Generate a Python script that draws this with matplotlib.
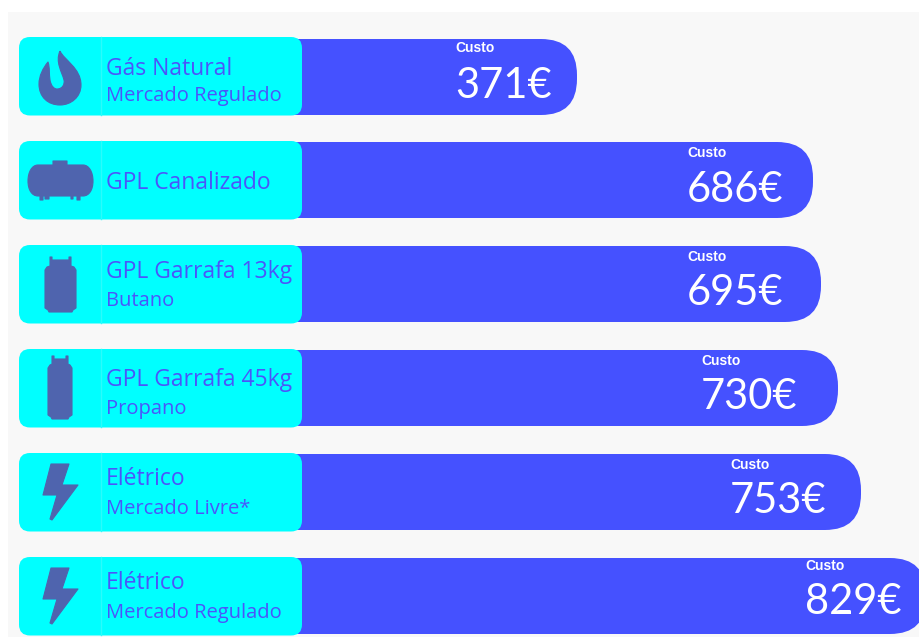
import matplotlib
matplotlib.use('Agg')
import matplotlib.pyplot as plt
from matplotlib.patches import FancyBboxPatch, PathPatch, Rectangle
from matplotlib.path import Path

# data
titles = ['Gás Natural', 'GPL Canalizado', 'GPL Garrafa 13kg', 'GPL Garrafa 45kg', 'Elétrico', 'Elétrico']
subtitles = ['Mercado Regulado', '', 'Butano', 'Propano', 'Mercado Livre*', 'Mercado Regulado']
costs = [371, 686, 695, 730, 753, 829]
bar_lengths = [277, 513, 521, 538, 561, 626]
icons = ['flame', 'tank', 'bottle13', 'bottle45', 'bolt', 'bolt']

# layout, in reference pixels
bar_tops = [39, 142, 246, 350, 454, 558]
panel_tops = [37, 141, 245, 349, 453, 557]
label_left = [455, 687, 687, 701, 730, 805]
custo_base = [52, 157, 261, 365, 469, 570]
value_base = [98, 202, 305, 409, 513, 614]
title_base = [75, 189, 278, 386, 485, 589]
sub_base = [101, 0, 306, 414, 514, 618]
BAR_H = 76
BAR_X = 300

BLUE = '#4551FF'
CYAN = '#00FFFF'
ICON = '#4F64AE'
TEXT = '#4B55FA'
FONT = 'Lato'
BODY_FONT = 'Open Sans'


def flame_path():
    verts = [(60, 51), (64, 60), (81, 68), (81, 85), (81, 97), (71, 105), (60, 105),
             (48, 105), (39, 97), (39, 84), (39, 76), (43, 68), (48, 62),
             (50, 68), (49, 74), (50, 80), (51, 86), (54, 89), (57, 89),
             (62, 89), (65, 85), (64, 80), (62, 72), (55, 62), (60, 51)]
    codes = [Path.MOVETO] + [Path.CURVE4] * 24
    return Path(verts, codes)


def tank_path():
    verts = [(38, 165), (53, 165), (53, 161), (67, 161), (67, 165), (83, 165),
             (89, 165), (93, 172), (93, 181), (93, 190), (89, 196), (83, 196),
             (80, 196), (80, 200), (77, 200), (77, 196), (73, 196), (73, 199), (71, 199), (71, 196),
             (49, 196), (49, 199), (45, 199), (45, 196), (43, 196), (43, 200), (40, 200), (40, 196),
             (38, 196), (32, 196), (28, 190), (28, 181), (28, 172), (32, 165), (38, 165)]
    codes = [Path.MOVETO] + [Path.LINETO] * 5 + [Path.CURVE4] * 6 + [Path.LINETO] * 17 + [Path.CURVE4] * 6
    return Path(verts, codes)


def bottle_path(x0, x1, cap_l, cap_r, y0, y1, body_top):
    verts = [(cap_l, y0), (cap_l + 2, y0), (cap_l + 2, y0 + 3), (cap_r - 2, y0 + 3), (cap_r - 2, y0), (cap_r, y0),
             (cap_r, body_top - 1), (x1 - 2, body_top), (x1, body_top + 3), (x1, y1 - 4), (x1 - 3, y1 - 2),
             (x1 - 4, y1), (x0 + 4, y1), (x0 + 3, y1 - 2), (x0, y1 - 4), (x0, body_top + 3),
             (x0 + 2, body_top), (cap_l, body_top - 1), (cap_l, y0)]
    codes = [Path.MOVETO] + [Path.LINETO] * 17 + [Path.CLOSEPOLY]
    return Path(verts, codes)


def bolt_path(top):
    y = top + 10
    verts = [(51, y), (69, y), (62, y + 21), (78, y + 21), (52, y + 56), (50, y + 55), (57, y + 31), (43, y + 31), (51, y)]
    codes = [Path.MOVETO] + [Path.LINETO] * 7 + [Path.CLOSEPOLY]
    return Path(verts, codes)


def icon_path(name, top):
    if name == 'flame':
        return flame_path()
    if name == 'tank':
        return tank_path()
    if name == 'bottle13':
        return bottle_path(45, 76, 50, 71, 257, 312, 267)
    if name == 'bottle45':
        return bottle_path(48, 72, 52, 68, 356, 419, 365)
    return bolt_path(top)


fig = plt.figure(figsize=(9.19, 6.37), dpi=100)
ax = fig.add_axes([0, 0, 1, 1])
ax.set_xlim(0, 919)
ax.set_ylim(637, 0)
ax.axis('off')

ax.add_patch(Rectangle((8, 12), 911, 625, facecolor='#F8F8F8', edgecolor='none', zorder=0))

for i, top in enumerate(bar_tops):
    # bar, rounded on the right and tucked under the cyan panel
    r = 36
    ax.add_patch(FancyBboxPatch((BAR_X - 40 + r, top + r), bar_lengths[i] + 40 - 2 * r, BAR_H - 2 * r,
                                boxstyle=f'round,pad={r},rounding_size={r}',
                                facecolor=BLUE, edgecolor='none', zorder=1))

    # cyan label panel
    p = 11
    ax.add_patch(FancyBboxPatch((19 + p, panel_tops[i] + p), 283 - 2 * p, 78.5 - 2 * p,
                                boxstyle=f'round,pad={p},rounding_size={p}',
                                facecolor=CYAN, edgecolor='none', zorder=2))
    ax.plot([100.5, 100.5], [panel_tops[i], panel_tops[i] + 78], color='#2BFBFB', lw=1, zorder=3)

    ax.add_patch(PathPatch(icon_path(icons[i], top), facecolor=ICON, edgecolor=ICON, lw=0.8,
                           joinstyle='round', zorder=4))

    ax.text(106, title_base[i], titles[i], color=TEXT, fontsize=16.5, family=BODY_FONT, va='baseline', ha='left', zorder=5)
    if subtitles[i]:
        ax.text(106, sub_base[i], subtitles[i], color=TEXT, fontsize=14.5, family=BODY_FONT, va='baseline', ha='left', zorder=5)

    ax.text(label_left[i], custo_base[i], 'Custo', color='white', fontsize=10, fontweight='bold',
            family='Liberation Sans', va='baseline', ha='left', zorder=5)
    ax.text(label_left[i], value_base[i], f'{costs[i]}€', color='white', fontsize=30, family=FONT,
            va='baseline', ha='left', zorder=5)

plt.savefig('out.png', dpi=100, facecolor='white')
plt.close()
